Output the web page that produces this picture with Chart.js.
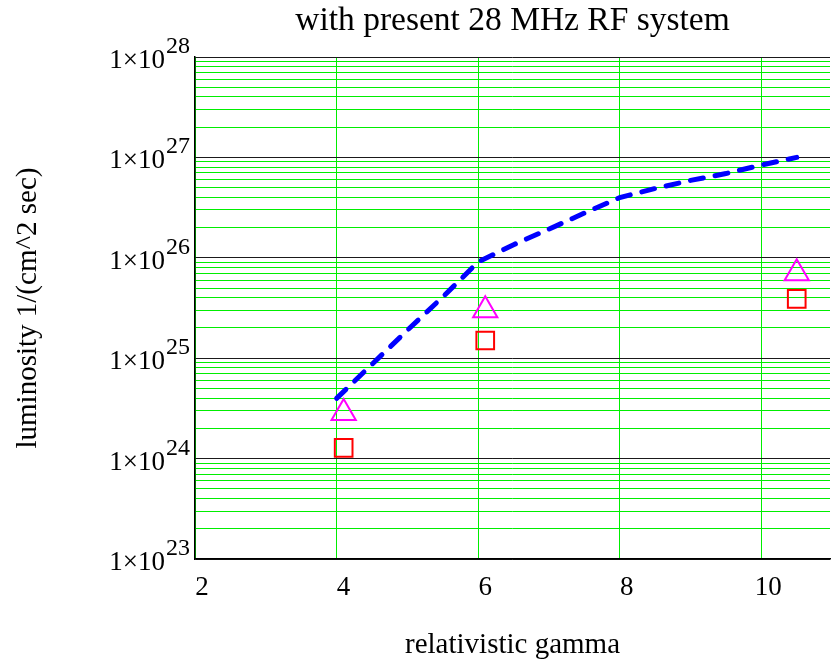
<!DOCTYPE html>
<html>
<head>
<meta charset="utf-8">
<script src="https://cdn.jsdelivr.net/npm/chart.js@4.4.1/dist/chart.umd.min.js"></script>
<style>
  html, body { margin: 0; padding: 0; background: #fff; }
  #wrap { width: 833px; height: 666px; }
</style>
</head>
<body>
<div id="wrap"><canvas id="c" width="833" height="666"></canvas></div>
<script>
// ---- data ----
const chartTitle = 'with present 28 MHz RF system';
const xTitle = 'relativistic gamma';
const yTitle = 'luminosity 1/(cm^2 sec)';

const xTickValues = [2, 4, 6, 8, 10];
const yDecades = [23, 24, 25, 26, 27, 28];
const yTickBase = '1×10';

// dashed blue curve
const curveGamma = [4.0, 4.5, 5.0, 5.5, 6.0, 6.5, 7.0, 7.5, 8.0, 8.5, 9.0, 9.5, 10.0, 10.5];
const curveLum   = [3.98e24, 8.7e24, 1.9e25, 4.07e25, 9.1e25, 1.35e26, 1.93e26, 2.79e26, 3.98e26, 4.9e26, 5.9e26, 6.9e26, 8.4e26, 1.0e27];

// markers
const markGamma = [4.1, 6.1, 10.5];
const triangleLum = [2.85e24, 3.0e25, 7.0e25];
const squareLum   = [1.28e24, 1.5e25, 3.9e25];

const toXY = (xs, ys) => xs.map((x, i) => ({ x: x, y: ys[i] }));

const SERIF = '"Liberation Serif", "Times New Roman", serif';

const textPlugin = {
  id: 'texts',
  afterDraw(chart) {
    const s = chart.scales.y;
    const ctx = chart.ctx;
    const area = chart.chartArea;
    ctx.save();
    ctx.fillStyle = '#000';
    ctx.textBaseline = 'alphabetic';
    // title centred over the plot area
    ctx.textAlign = 'center';
    ctx.font = '33.5px ' + SERIF;
    ctx.fillText(chartTitle, (area.left + area.right) / 2, 30);
    // y tick labels 1x10^n
    ctx.textAlign = 'left';
    yDecades.forEach(e => {
      const y = s.getPixelForValue(Math.pow(10, e));
      const sup = String(e);
      ctx.font = '27px ' + SERIF;
      const w1 = ctx.measureText(yTickBase).width;
      ctx.font = '24px ' + SERIF;
      const w2 = ctx.measureText(sup).width;
      const xr = s.right - 5;
      ctx.font = '27px ' + SERIF;
      ctx.fillText(yTickBase, xr - w2 - 1 - w1, y + 11);
      ctx.font = '24px ' + SERIF;
      ctx.fillText(sup, xr - w2, y - 4);
    });
    ctx.restore();
  }
};

new Chart(document.getElementById('c'), {
  type: 'scatter',
  data: {
    datasets: [
      {
        label: 'luminosity',
        data: toXY(curveGamma, curveLum),
        showLine: true,
        borderColor: '#0000ff',
        backgroundColor: '#0000ff',
        borderWidth: 5,
        borderDash: [13, 12],
        borderCapStyle: 'round',
        pointRadius: 0,
        tension: 0
      },
      {
        label: 'triangles',
        data: toXY(markGamma, triangleLum),
        showLine: false,
        pointStyle: 'triangle',
        pointRadius: 14,
        borderColor: '#ff00ff',
        backgroundColor: 'rgba(0,0,0,0)',
        borderWidth: 2
      },
      {
        label: 'squares',
        data: toXY(markGamma, squareLum),
        showLine: false,
        pointStyle: 'rect',
        pointRadius: 12.5,
        borderColor: '#ff0000',
        backgroundColor: 'rgba(0,0,0,0)',
        borderWidth: 2
      }
    ]
  },
  options: {
    responsive: false,
    animation: false,
    layout: { autoPadding: false, padding: { left: 0, right: 3, top: 57, bottom: 0 } },
    plugins: {
      legend: { display: false },
      tooltip: { enabled: false },
      title: { display: false }
    },
    scales: {
      x: {
        type: 'linear',
        position: 'bottom',
        min: 2,
        max: 10.97,
        afterBuildTicks(scale) { scale.ticks = xTickValues.map(v => ({ value: v })); },
        afterFit(scale) { scale.height = 107; scale.paddingLeft = 0; scale.paddingRight = 0; },
        grid: { color: '#00ee00', lineWidth: 1, drawTicks: false },
        border: { display: true, color: '#000', width: 1.5 },
        ticks: {
          color: '#000',
          padding: 13,
          labelOffset: 7,
          autoSkip: false,
          maxRotation: 0,
          font: { family: SERIF, size: 27 }
        },
        title: {
          display: true,
          text: xTitle,
          color: '#000',
          font: { family: SERIF, size: 29 },
          padding: { top: 0, bottom: 3 }
        }
      },
      y: {
        type: 'logarithmic',
        min: 1e23,
        max: 1e28,
        afterBuildTicks(scale) {
          const t = [];
          for (let i = 0; i < yDecades.length - 1; i++) {
            for (let m = 1; m <= 9; m++) t.push({ value: m * Math.pow(10, yDecades[i]) });
          }
          t.push({ value: Math.pow(10, yDecades[yDecades.length - 1]) });
          scale.ticks = t;
        },
        afterFit(scale) { scale.width = 195; },
        grid: {
          drawTicks: false,
          lineWidth: 1,
          color(ctx) {
            const v = ctx.tick ? ctx.tick.value : 1;
            const l = Math.log10(v);
            return Math.abs(l - Math.round(l)) < 1e-6 ? '#1a1a1a' : '#00ee00';
          }
        },
        border: { display: true, color: '#000', width: 1.5 },
        ticks: { display: false, autoSkip: false },
        title: {
          display: true,
          text: yTitle,
          color: '#000',
          font: { family: SERIF, size: 29 },
          padding: { top: 11, bottom: 0 }
        }
      }
    }
  },
  plugins: [textPlugin]
});
</script>
</body>
</html>
